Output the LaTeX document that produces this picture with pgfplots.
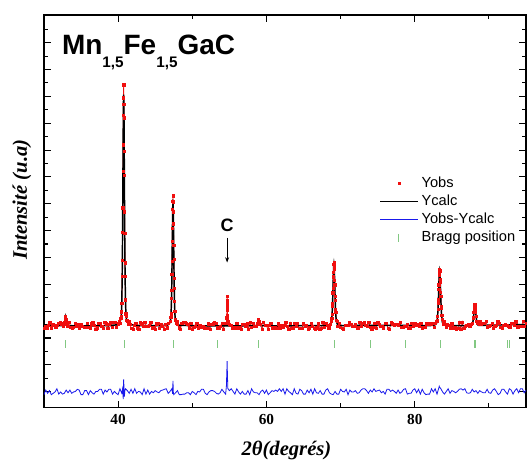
\documentclass[border=0pt]{standalone}
\usepackage{fontspec}
\setmainfont{Liberation Serif}
\setsansfont{Liberation Sans}
\usepackage{pgfplots}
\pgfplotsset{compat=1.18}
\usepackage{pgfplotstable}
\usetikzlibrary{arrows.meta}
\definecolor{obsred}{RGB}{240,15,15}
\definecolor{diffblue}{RGB}{25,25,235}
\definecolor{braggreen}{RGB}{130,200,130}

\pgfplotstableread{
x y
30.0 2.35
30.2 2.44
30.4 2.35
30.6 2.47
30.8 2.59
31.0 2.38
31.2 2.50
31.4 2.47
31.6 2.41
31.8 2.47
32.0 2.56
32.2 2.59
32.4 2.53
32.6 2.46
32.7 2.52
32.8 2.58
32.85 2.70
32.9 2.80
32.95 2.68
33.0 2.60
33.1 2.48
33.2 2.44
33.4 2.59
33.6 2.41
33.8 2.38
34.0 2.41
34.2 2.56
34.4 2.44
34.6 2.50
34.8 2.38
35.0 2.50
35.2 2.44
35.4 2.41
35.6 2.41
35.8 2.56
36.0 2.41
36.2 2.38
36.4 2.53
36.6 2.59
36.8 2.47
37.0 2.32
37.2 2.38
37.4 2.56
37.6 2.56
37.8 2.44
38.0 2.35
38.2 2.59
38.4 2.53
38.6 2.35
38.8 2.50
39.0 2.59
39.2 2.41
39.4 2.59
39.6 2.59
39.8 2.41
40.0 2.53
40.15 2.62
40.25 2.55
40.35 2.74
40.4 2.82
40.45 2.98
40.5 3.30
40.55 4.30
40.575 4.90
40.6 5.95
40.625 6.85
40.65 8.20
40.675 9.20
40.7 10.30
40.725 10.95
40.75 11.43
40.775 10.70
40.8 10.20
40.825 8.95
40.85 8.05
40.875 6.70
40.9 5.90
40.925 4.80
40.95 4.30
41.0 3.42
41.05 2.90
41.1 2.82
41.15 2.66
41.25 2.64
41.35 2.52
41.45 2.60
41.6 2.50
41.8 2.35
42.0 2.32
42.2 2.47
42.4 2.56
42.6 2.38
42.8 2.32
43.0 2.59
43.2 2.53
43.4 2.44
43.6 2.59
43.8 2.44
44.0 2.44
44.2 2.47
44.4 2.59
44.6 2.38
44.8 2.41
45.0 2.32
45.2 2.53
45.4 2.56
45.6 2.35
45.8 2.50
46.0 2.44
46.2 2.32
46.4 2.50
46.6 2.38
46.8 2.56
47.0 2.62
47.1 2.76
47.15 2.90
47.2 3.48
47.225 3.78
47.25 4.38
47.275 4.85
47.3 5.60
47.325 6.10
47.35 6.80
47.375 7.10
47.4 7.30
47.425 7.05
47.45 6.70
47.475 6.25
47.5 5.45
47.525 4.92
47.55 4.22
47.575 3.85
47.6 3.38
47.65 3.00
47.7 2.70
47.75 2.66
47.8 2.55
47.9 2.60
48.0 2.50
48.2 2.38
48.4 2.32
48.6 2.56
48.8 2.59
49.0 2.59
49.2 2.56
49.4 2.50
49.6 2.38
49.8 2.56
50.0 2.32
50.2 2.41
50.4 2.44
50.6 2.56
50.8 2.38
51.0 2.47
51.2 2.41
51.4 2.44
51.6 2.38
51.8 2.35
52.0 2.35
52.2 2.53
52.4 2.32
52.6 2.50
52.8 2.53
53.0 2.59
53.2 2.56
53.4 2.38
53.6 2.35
53.8 2.44
54.0 2.56
54.2 2.32
54.4 2.56
54.6 2.55
54.65 2.75
54.675 3.05
54.69 3.30
54.7 3.55
54.71 3.40
54.725 3.20
54.75 2.85
54.8 2.60
55.0 2.50
55.2 2.47
55.4 2.35
55.6 2.41
55.8 2.38
56.0 2.56
56.2 2.38
56.4 2.41
56.6 2.32
56.8 2.50
57.0 2.50
57.2 2.44
57.4 2.53
57.6 2.32
57.8 2.59
58.0 2.41
58.2 2.56
58.4 2.44
58.6 2.44
58.75 2.55
58.85 2.66
58.9 2.68
58.95 2.62
59.05 2.52
59.2 2.50
59.4 2.32
59.6 2.59
59.8 2.47
60.0 2.47
60.2 2.32
60.4 2.47
60.6 2.56
60.8 2.38
61.0 2.38
61.2 2.41
61.4 2.35
61.6 2.53
61.8 2.38
62.0 2.47
62.2 2.41
62.4 2.47
62.6 2.59
62.8 2.44
63.0 2.32
63.2 2.56
63.4 2.35
63.6 2.38
63.8 2.56
64.0 2.44
64.2 2.56
64.4 2.35
64.6 2.35
64.8 2.35
65.0 2.53
65.2 2.44
65.4 2.47
65.6 2.32
65.8 2.38
66.0 2.56
66.2 2.44
66.4 2.35
66.6 2.32
66.8 2.38
67.0 2.53
67.2 2.32
67.4 2.35
67.6 2.59
67.8 2.41
68.0 2.56
68.2 2.47
68.4 2.38
68.6 2.50
68.7 2.62
68.8 2.74
68.86 2.88
68.9 3.18
68.92 3.30
68.95 3.68
68.98 3.85
69.01 4.28
69.04 4.45
69.07 4.75
69.1 4.82
69.13 4.62
69.16 4.55
69.19 4.15
69.22 3.98
69.25 3.55
69.28 3.40
69.31 3.05
69.34 2.96
69.4 2.65
69.5 2.62
69.6 2.45
69.8 2.55
70.0 2.40
70.2 2.35
70.4 2.32
70.6 2.47
70.8 2.47
71.0 2.47
71.2 2.59
71.4 2.50
71.6 2.44
71.8 2.44
72.0 2.50
72.2 2.38
72.4 2.38
72.6 2.59
72.8 2.44
73.0 2.56
73.2 2.59
73.4 2.47
73.6 2.44
73.8 2.59
74.0 2.41
74.2 2.32
74.4 2.41
74.6 2.56
74.8 2.35
75.0 2.59
75.2 2.50
75.4 2.44
75.6 2.44
75.8 2.38
76.0 2.56
76.2 2.56
76.4 2.35
76.6 2.32
76.8 2.59
77.0 2.53
77.2 2.47
77.4 2.50
77.6 2.50
77.8 2.47
78.0 2.59
78.2 2.41
78.4 2.41
78.6 2.44
78.8 2.44
79.0 2.50
79.2 2.35
79.4 2.38
79.6 2.56
79.8 2.44
80.0 2.53
80.2 2.47
80.4 2.50
80.6 2.44
80.8 2.56
81.0 2.38
81.2 2.41
81.4 2.41
81.6 2.53
81.8 2.56
82.0 2.50
82.2 2.53
82.4 2.56
82.6 2.41
82.8 2.55
82.9 2.62
83.0 2.64
83.06 2.80
83.12 3.08
83.155 3.30
83.19 3.42
83.22 3.82
83.25 3.98
83.285 4.35
83.32 4.40
83.35 4.57
83.38 4.50
83.415 4.18
83.45 4.08
83.48 3.70
83.51 3.55
83.545 3.18
83.58 3.10
83.64 2.85
83.7 2.70
83.8 2.50
83.9 2.60
84.0 2.52
84.2 2.40
84.4 2.50
84.6 2.47
84.8 2.38
85.0 2.53
85.2 2.35
85.4 2.38
85.6 2.32
85.8 2.35
86.0 2.59
86.2 2.32
86.4 2.59
86.6 2.35
86.8 2.44
87.0 2.47
87.2 2.50
87.4 2.44
87.6 2.50
87.8 2.56
87.9 2.75
87.97 2.95
88.03 3.08
88.07 3.15
88.1 3.25
88.13 3.12
88.17 3.14
88.2 2.98
88.26 2.80
88.35 2.62
88.5 2.55
88.7 2.50
88.8 2.60
89.0 2.51
89.2 2.54
89.4 2.54
89.6 2.63
89.8 2.42
90.0 2.45
90.2 2.48
90.4 2.54
90.6 2.36
90.8 2.45
91.0 2.48
91.2 2.60
91.4 2.54
91.6 2.39
91.8 2.36
92.0 2.48
92.2 2.51
92.4 2.48
92.6 2.45
92.8 2.42
93.0 2.54
93.2 2.54
93.4 2.48
93.6 2.60
93.8 2.42
94.0 2.39
94.2 2.45
94.4 2.45
94.6 2.63
94.8 2.45
95.0 2.54
}\obs

\pgfplotstableread{
x y
30 2.47
31 2.46
32 2.46
32.6 2.46
32.75 2.50
32.8 2.55
32.85 2.66
32.9 2.75
32.95 2.66
33.0 2.55
33.05 2.50
33.2 2.46
35 2.45
37 2.45
39 2.46
39.75 2.49
39.9 2.50
40.05 2.53
40.15 2.56
40.25 2.60
40.35 2.68
40.4 2.77
40.45 2.94
40.5 3.35
40.55 4.19
40.575 4.87
40.6 5.73
40.625 6.76
40.65 7.89
40.675 9.05
40.7 10.08
40.725 10.80
40.75 11.06
40.775 10.80
40.8 10.08
40.825 9.05
40.85 7.89
40.875 6.76
40.9 5.73
40.925 4.87
40.95 4.19
41.0 3.35
41.05 2.94
41.1 2.77
41.15 2.68
41.25 2.60
41.35 2.56
41.45 2.53
41.6 2.50
41.75 2.49
43 2.46
45 2.46
46.4 2.47
46.55 2.48
46.7 2.49
46.8 2.51
46.9 2.53
47.0 2.58
47.05 2.62
47.1 2.72
47.15 2.94
47.2 3.40
47.225 3.77
47.25 4.24
47.275 4.80
47.3 5.42
47.325 6.05
47.35 6.61
47.375 7.01
47.4 7.15
47.425 7.01
47.45 6.61
47.475 6.05
47.5 5.42
47.525 4.80
47.55 4.24
47.575 3.77
47.6 3.40
47.65 2.94
47.7 2.72
47.75 2.62
47.8 2.58
47.9 2.53
48.0 2.51
48.1 2.49
48.25 2.48
48.4 2.47
50 2.46
52 2.45
54 2.45
56 2.45
58.6 2.46
58.8 2.52
58.9 2.60
59.0 2.52
59.2 2.46
62 2.45
65 2.46
67.9 2.46
68.38 2.48
68.5 2.49
68.62 2.51
68.68 2.54
68.74 2.58
68.8 2.69
68.86 2.91
68.89 3.10
68.92 3.33
68.95 3.60
68.98 3.90
69.01 4.21
69.04 4.49
69.07 4.68
69.1 4.75
69.13 4.68
69.16 4.49
69.19 4.21
69.22 3.90
69.25 3.60
69.28 3.33
69.31 3.10
69.34 2.91
69.4 2.69
69.46 2.58
69.52 2.54
69.58 2.51
69.7 2.49
69.82 2.48
70.3 2.46
73 2.47
76 2.47
79 2.47
82.05 2.46
82.57 2.48
82.70 2.49
82.83 2.51
82.895 2.53
82.96 2.57
83.025 2.66
83.09 2.86
83.12 3.03
83.155 3.23
83.19 3.48
83.22 3.75
83.25 4.02
83.285 4.27
83.32 4.44
83.35 4.50
83.38 4.44
83.415 4.27
83.45 4.02
83.48 3.75
83.51 3.48
83.545 3.23
83.58 3.03
83.61 2.86
83.675 2.66
83.74 2.57
83.805 2.53
83.87 2.51
84.0 2.49
84.13 2.48
84.65 2.46
86 2.46
87.3 2.46
87.58 2.47
87.71 2.49
87.775 2.53
87.84 2.60
87.87 2.66
87.905 2.74
87.94 2.83
87.97 2.92
88.0 3.02
88.035 3.11
88.07 3.18
88.1 3.20
88.13 3.18
88.165 3.11
88.2 3.02
88.23 2.92
88.26 2.83
88.295 2.74
88.33 2.66
88.36 2.60
88.425 2.53
88.49 2.49
88.62 2.47
89.0 2.47
92 2.49
95 2.50
}\calc

\pgfplotstableread{
x y
30.00 -0.11
30.25 0.06
30.50 -0.06
30.75 0.04
31.00 -0.11
31.25 -0.06
31.50 -0.01
31.75 0.11
32.00 -0.09
32.25 -0.01
32.50 -0.09
32.75 -0.06
33.00 0.06
33.25 -0.04
33.50 0.06
33.75 -0.06
34.00 -0.01
34.25 0.01
34.50 0.09
34.75 0.06
35.00 -0.11
35.25 -0.11
35.50 0.04
35.75 0.04
36.00 -0.11
36.25 0.04
36.50 -0.04
36.75 -0.09
37.00 0.01
37.25 0.01
37.50 0.09
37.75 0.09
38.00 -0.09
38.25 0.06
38.50 -0.01
38.75 0.09
39.00 0.09
39.25 -0.09
39.50 0.01
39.75 -0.06
40.00 -0.11
40.25 0.11
40.50 -0.06
40.60 0.10
40.70 -0.28
40.75 0.46
40.80 0.12
40.85 -0.18
40.92 0.05
41.00 0.11
41.25 0.04
41.50 -0.06
41.75 0.09
42.00 -0.06
42.25 0.11
42.50 -0.06
42.75 0.01
43.00 -0.01
43.25 -0.11
43.50 0.11
43.75 -0.09
44.00 0.06
44.25 -0.09
44.50 0.01
44.75 -0.04
45.00 0.04
45.25 -0.01
45.50 -0.04
45.75 0.04
46.00 0.06
46.25 0.09
46.50 0.11
46.75 -0.06
47.00 0.01
47.25 0.11
47.35 -0.08
47.40 0.40
47.45 -0.02
47.50 -0.11
47.75 -0.04
48.00 0.04
48.25 -0.11
48.50 -0.11
48.75 -0.09
49.00 -0.09
49.25 -0.04
49.50 -0.04
49.75 -0.11
50.00 0.01
50.25 -0.04
50.50 -0.11
50.75 0.01
51.00 -0.01
51.25 0.09
51.50 0.09
51.75 -0.06
52.00 -0.11
52.25 -0.01
52.50 0.04
52.75 0.04
53.00 0.01
53.25 -0.06
53.50 -0.09
53.75 -0.04
54.00 0.09
54.25 -0.01
54.50 -0.09
54.60 0.20
54.65 0.65
54.70 1.14
54.75 0.55
54.80 0.12
55.00 0.04
55.25 0.11
55.50 0.01
55.75 -0.09
56.00 0.11
56.25 -0.01
56.50 -0.09
56.75 0.01
57.00 -0.09
57.25 -0.09
57.50 0.04
57.75 -0.11
58.00 0.11
58.25 -0.01
58.50 -0.04
58.75 -0.04
59.00 -0.11
59.25 0.01
59.50 0.06
59.75 -0.06
60.00 0.06
60.25 -0.11
60.50 -0.04
60.75 0.04
61.00 0.01
61.25 0.06
61.50 0.01
61.75 0.11
62.00 0.01
62.25 0.11
62.50 -0.09
62.75 0.11
63.00 0.01
63.25 -0.04
63.50 -0.11
63.75 0.11
64.00 -0.06
64.25 -0.09
64.50 0.09
64.75 0.04
65.00 -0.09
65.25 -0.09
65.50 0.06
65.75 -0.04
66.00 0.09
66.25 -0.09
66.50 0.11
66.75 -0.04
67.00 -0.06
67.25 0.04
67.50 -0.09
67.75 -0.09
68.00 0.06
68.25 0.11
68.50 -0.04
68.75 -0.09
69.00 -0.11
69.25 0.01
69.50 -0.09
69.75 -0.09
70.00 0.09
70.25 0.01
70.50 -0.01
70.75 0.09
71.00 -0.11
71.25 0.06
71.50 -0.01
71.75 -0.01
72.00 0.04
72.25 -0.06
72.50 -0.04
72.75 0.06
73.00 0.11
73.25 0.11
73.50 0.04
73.75 -0.06
74.00 0.06
74.25 -0.01
74.50 0.11
74.75 0.01
75.00 0.04
75.25 0.06
75.50 -0.04
75.75 0.01
76.00 -0.09
76.25 0.09
76.50 0.09
76.75 0.01
77.00 0.06
77.25 0.01
77.50 -0.06
77.75 0.06
78.00 -0.06
78.25 -0.01
78.50 0.09
78.75 0.11
79.00 -0.09
79.25 -0.06
79.50 -0.06
79.75 0.06
80.00 0.11
80.25 -0.04
80.50 0.09
80.75 -0.09
81.00 0.09
81.25 -0.04
81.50 -0.11
81.75 -0.09
82.00 -0.09
82.25 0.11
82.50 -0.01
82.75 0.11
83.00 -0.09
83.20 0.10
83.30 0.20
83.35 0.16
83.50 0.12
83.75 -0.01
84.00 -0.09
84.25 0.01
84.50 0.11
84.75 -0.06
85.00 0.04
85.25 0.01
85.50 -0.04
85.75 0.01
86.00 0.09
86.25 0.11
86.50 0.06
86.75 0.11
87.00 -0.04
87.25 -0.06
87.50 -0.04
87.75 0.09
88.00 -0.01
88.25 0.04
88.50 -0.06
88.75 0.04
89.00 -0.01
89.25 -0.04
89.50 -0.04
89.75 0.09
90.00 -0.04
90.25 -0.06
90.50 0.06
90.75 0.11
91.00 0.01
91.25 -0.11
91.50 -0.06
91.75 0.09
92.00 0.09
92.25 -0.01
92.50 -0.09
92.75 0.11
93.00 0.06
93.25 -0.09
93.50 0.04
93.75 0.11
94.00 -0.04
94.25 0.11
94.50 0.11
94.75 -0.04
95.00 0.06
}\diff

\pgfplotstableread{
x y
32.95 1.77
40.8 1.77
47.45 1.77
53.4 1.77
58.9 1.77
69.15 1.77
74.05 1.77
78.8 1.77
83.45 1.77
88.0 1.77
88.2 1.77
92.5 1.77
92.7 1.77
}\bragg

\begin{document}
\begin{tikzpicture}
\begin{axis}[
  scale only axis, width=362.25pt, height=294.75pt,
  xmin=30, xmax=95, ymin=-0.58, ymax=14.03,
  xtick={40,60,80}, minor xtick={50,70,90},
  ytick={0,1,...,14}, yticklabels={}, minor y tick num=1,
  tick align=inside,
  major tick length=5pt, minor tick length=3pt,
  every tick/.style={black, line width=0.8pt},
  axis line style={line width=1.1pt},
  /pgf/number format/assume math mode=true,
  xticklabel style={font=\fontsize{11.5}{12}\selectfont\bfseries, yshift=-2pt},
  xlabel={\bfseries\itshape 2θ(degrés)},
  xlabel style={font=\fontsize{15.5}{16}\selectfont, at={(axis description cs:0.503,0)}, anchor=base, yshift=-36.5pt},
  ylabel={\bfseries\itshape Intensité (u.a)},
  ylabel style={font=\fontsize{15.5}{16}\selectfont, at={(axis description cs:-0.0455,0.529)}, anchor=center},
  legend style={at={(rel axis cs:0.6957,0.594)}, anchor=north west, draw=none, fill=none,
    font=\fontsize{11}{12}\selectfont\sffamily, inner sep=0pt, row sep=0pt,
    nodes={inner xsep=2.5pt, inner ysep=1.6pt, text height=8pt, text depth=2.4pt}},
  legend cell align=left,
  legend image code/.code={\draw[mark repeat=2,mark phase=2,#1] plot coordinates {(0pt,0pt) (14pt,0pt) (28pt,0pt)};},
]
\addplot[obsred, line width=0.55pt, forget plot] table[x=x,y=y]{\obs};
\addplot[obsred, only marks, mark=square*, mark size=0.85pt] table[x=x,y=y]{\obs};
\addlegendentry{Yobs}
\addplot[black, line width=1.1pt] table[x=x,y=y]{\calc};
\addlegendentry{Ycalc}
\addplot[diffblue, line width=0.6pt] table[x=x,y=y]{\diff};
\addlegendentry{Yobs-Ycalc}
\addplot[braggreen, only marks, mark=|, mark size=3pt, line width=0.7pt] table[x=x,y=y]{\bragg};
\addlegendentry{Bragg position}

\node[anchor=base west, font=\fontsize{21}{21}\selectfont\sffamily\bfseries, inner sep=0pt]
  at (rel axis cs:0.037,0.898)
  {Mn\raisebox{-9.5pt}{\fontsize{11.5}{12}\selectfont 1,5}Fe\raisebox{-9.5pt}{\fontsize{11.5}{12}\selectfont 1,5}GaC};
\node[anchor=base, font=\fontsize{13.5}{14}\selectfont\sffamily\bfseries, inner sep=0pt] at (axis cs:54.7,5.96) {C};
\draw[line width=0.6pt, -{Stealth[length=4pt,width=3pt]}] (axis cs:54.7,5.74) -- (axis cs:54.7,4.81);

\coordinate (bbSW) at (rel axis cs:-0.0911,-0.1399);
\coordinate (bbNE) at (rel axis cs:1.002,1.0382);
\end{axis}
\pgfresetboundingbox
\path[use as bounding box] (bbSW) rectangle (bbNE);
\end{tikzpicture}
\end{document}
